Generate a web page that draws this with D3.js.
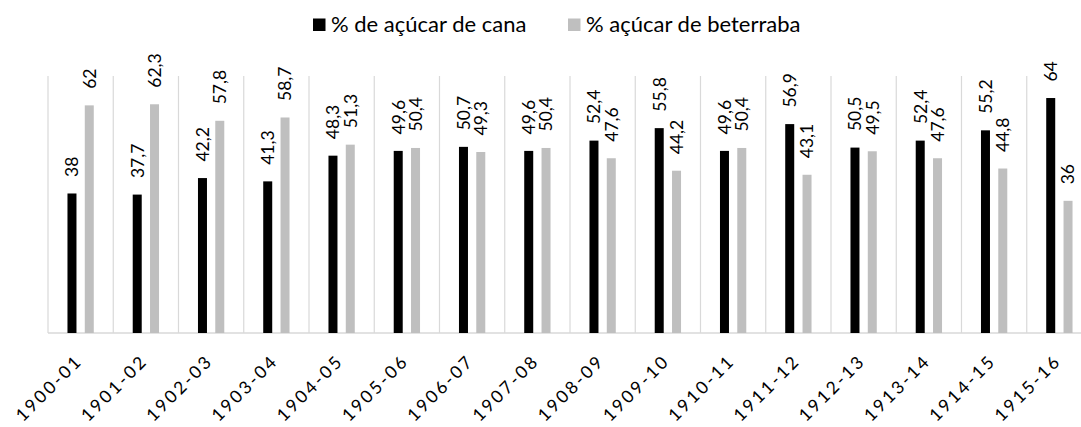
<!DOCTYPE html>
<html>
<head>
<meta charset="utf-8">
<script src="https://cdn.jsdelivr.net/npm/d3@7"></script>
<style>
  html, body { margin: 0; padding: 0; background: #fff; }
  svg { display: block; font-family: Lato, "Open Sans", sans-serif; }
</style>
</head>
<body>
<svg id="chart" width="1081" height="427"></svg>
<script>
const categories = ["1900-01","1901-02","1902-03","1903-04","1904-05","1905-06","1906-07","1907-08","1908-09","1909-10","1910-11","1911-12","1912-13","1913-14","1914-15","1915-16"];
const seriesNames = ["% de açúcar de cana", "% açúcar de beterraba"];
const cana = [38, 37.7, 42.2, 41.3, 48.3, 49.6, 50.7, 49.6, 52.4, 55.8, 49.6, 56.9, 50.5, 52.4, 55.2, 64];
const beterraba = [62, 62.3, 57.8, 58.7, 51.3, 50.4, 49.3, 50.4, 47.6, 44.2, 50.4, 43.1, 49.5, 47.6, 44.8, 36];
const seriesColors = ["#000000", "#bfbfbf"];
const yMax = 70;

const svg = d3.select("#chart");
const plotLeft = 48, plotRight = 1092, plotTop = 76, plotBottom = 333;

const x0 = d3.scaleBand().domain(categories).range([plotLeft, plotRight]).padding(0);
const x1 = d3.scaleBand().domain([0, 1]).range([0, x0.bandwidth()]).paddingInner(0.48).paddingOuter(1.125);
const y = d3.scaleLinear().domain([0, yMax]).range([plotBottom, plotTop]);

const fmt = v => String(v).replace(".", ",");

// vertical category gridlines
svg.append("g").selectAll("line")
  .data(categories)
  .join("line")
  .attr("x1", d => x0(d)).attr("x2", d => x0(d))
  .attr("y1", y(yMax)).attr("y2", plotBottom)
  .attr("stroke", "#d9d9d9").attr("stroke-width", 1.2);

// baseline
svg.append("line")
  .attr("x1", plotLeft).attr("x2", plotRight)
  .attr("y1", plotBottom).attr("y2", plotBottom)
  .attr("stroke", "#d9d9d9").attr("stroke-width", 1.5);

const data = [cana, beterraba];

data.forEach((vals, si) => {
  const g = svg.append("g");
  g.selectAll("rect")
    .data(vals)
    .join("rect")
    .attr("x", (d, i) => x0(categories[i]) + x1(si))
    .attr("width", x1.bandwidth())
    .attr("y", d => y(d))
    .attr("height", d => plotBottom - y(d))
    .attr("fill", seriesColors[si]);

  g.selectAll("text")
    .data(vals)
    .join("text")
    .attr("transform", (d, i) => {
      const cx = x0(categories[i]) + x1(si) + x1.bandwidth() / 2;
      return `translate(${cx},${y(d) - 16.5}) rotate(-90)`;
    })
    .attr("dy", "0.36em")
    .attr("text-anchor", "start")
    .attr("font-size", 17.5)
    .attr("fill", "#000")
    .text(d => fmt(d));
});

// x axis labels
svg.append("g").selectAll("text")
  .data(categories)
  .join("text")
  .attr("transform", d => `translate(${x0(d) + x0.bandwidth() / 2 + 3},${plotBottom + 29}) rotate(-45)`)
  .attr("text-anchor", "end")
  .attr("font-size", 17.5)
  .attr("letter-spacing", "2.6px")
  .attr("fill", "#000")
  .text(d => d);

// legend
const legendItems = [
  { name: seriesNames[0], color: seriesColors[0], x: 313 },
  { name: seriesNames[1], color: seriesColors[1], x: 568 }
];
const lg = svg.append("g").selectAll("g").data(legendItems).join("g");
lg.append("rect")
  .attr("x", d => d.x).attr("y", 18.5)
  .attr("width", 12.5).attr("height", 12.5)
  .attr("fill", d => d.color);
lg.append("text")
  .attr("x", d => d.x + 18).attr("y", 31.5)
  .attr("font-size", 22)
  .attr("fill", "#000")
  .text(d => d.name);
</script>
</body>
</html>
